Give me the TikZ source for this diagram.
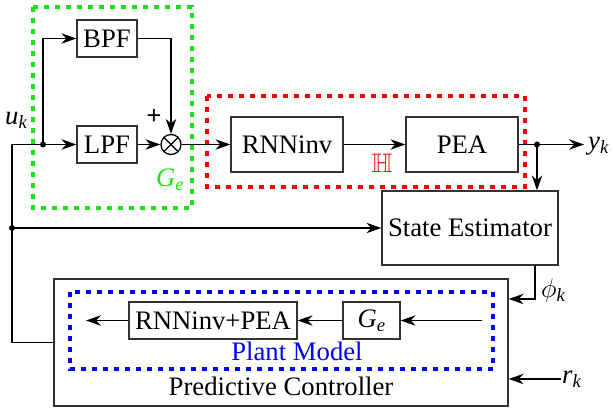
\RequirePackage{fix-cm}
\documentclass[tikz,border=0pt]{standalone}
\usepackage{amssymb}
\usepackage{fontspec}
\setmainfont{Liberation Serif}
\usetikzlibrary{arrows.meta}
\definecolor{gframe}{RGB}{20,230,20}
% italic variable with a lowered, smaller italic index
\newcommand{\subidx}[1]{\raisebox{-4pt}{\fontsize{18.7}{20}\selectfont\itshape #1}}
\newcommand{\ivar}[2]{\textit{#1}\subidx{#2}}
\begin{document}
\begin{tikzpicture}[x=1pt,y=-1pt,
  font=\fontsize{26.7}{32}\selectfont,
  box/.style={draw=black!80, line width=1.3pt, inner sep=0pt},
  frame/.style={line width=4.5pt, dash pattern=on 5pt off 6pt},
  wire/.style={line width=1.3pt, -{Stealth[length=15pt,width=10.5pt,inset=5pt]}},
  line/.style={line width=1.3pt}]
\useasboundingbox (0,0) rectangle (613,409);

% grouping frames
\draw[frame, gframe] (33,7) rectangle (192,208);
\draw[frame, red] (207,96) rectangle (525,187);

% upper chain
\node[box, minimum width=60pt, minimum height=37pt] (bpf) at (107,38.5) {BPF};
\node[box, minimum width=60pt, minimum height=37pt] (lpf) at (107,144.5) {LPF};
\node[circle, draw, line width=1.3pt, minimum size=20pt, inner sep=0pt] (sum) at (171,144.5) {};
\draw[line] (sum.north west) -- (sum.south east) (sum.north east) -- (sum.south west);
\node[box, minimum width=112pt, minimum height=55pt] (rnn) at (287,144.5) {RNNinv};
\node[box, minimum width=112pt, minimum height=55pt] (pea) at (462,144.5) {PEA};
\node[box, minimum width=176pt, minimum height=74pt] (se) at (470,228) {State Estimator};

% controller
\node[box, minimum width=454pt, minimum height=127pt] (pc) at (281,342.5) {};
\node (pclabel) at (281,386) {Predictive Controller};
\draw[frame, blue] (70,292) rectangle (493,369);
\node[box, minimum width=168pt, minimum height=37pt] (rp) at (213,320.5) {RNNinv+PEA};
\node[box, minimum width=57pt, minimum height=37pt] (ge) at (371.5,320.5) {\ivar{G}{e}};
\node[text=blue] (pm) at (297,351) {Plant Model};

% junctions and free ends
\coordinate (start) at (12,144.5);
\coordinate (j1) at (43,144.5);
\coordinate (j2) at (12,228);
\coordinate (j3) at (537,144.5);
\coordinate (pin) at (482,320.5);
\coordinate (pout) at (86,320.5);
\coordinate (phit) at (535,299);

% labels
\node (uk) at (16,120) {\ivar{u}{k}};
\node[text=gframe] (gel) at (170,180) {\ivar{G}{e}};
\node (plus) at (154,117) {\textbf{+}};
\node[text=red] (hh) at (382,163) {$\mathbb{H}$};
\node[anchor=west, inner sep=4pt] (yk) at (584,146) {\ivar{y}{k}};
\node (phi) at (553,291) {$\phi$\subidx{k}};
\node[anchor=west, inner sep=1pt] (rk) at (561,379) {\ivar{r}{k}};

% connectors
\draw[line] (pc.west) -| (start) -- (j1);
\draw[wire] (j1) -- (lpf);
\draw[wire] (j1) |- (bpf);
\draw[wire] (lpf) -- (sum);
\draw[wire] (bpf) -| (sum);
\draw[wire] (sum) -- (rnn);
\draw[wire] (rnn) -- (pea);
\draw[line] (pea) -- (j3);
\draw[wire] (j3) -- (j3 -| yk.west);
\draw[wire] (j3) -- (j3 |- se.north);
\draw[wire] (j2) -- (se);
\draw[wire] (se.south -| phit) |- (pc.east |- phit);
\draw[wire] (rk.west) -- (pc.east |- rk.west);
\draw[wire] (pin) -- (ge);
\draw[wire] (ge) -- (rp);
\draw[wire] (rp) -- (pout);

\fill (j1) circle (3pt);
\fill (j2) circle (3pt);
\fill (j3) circle (3pt);
\end{tikzpicture}
\end{document}
